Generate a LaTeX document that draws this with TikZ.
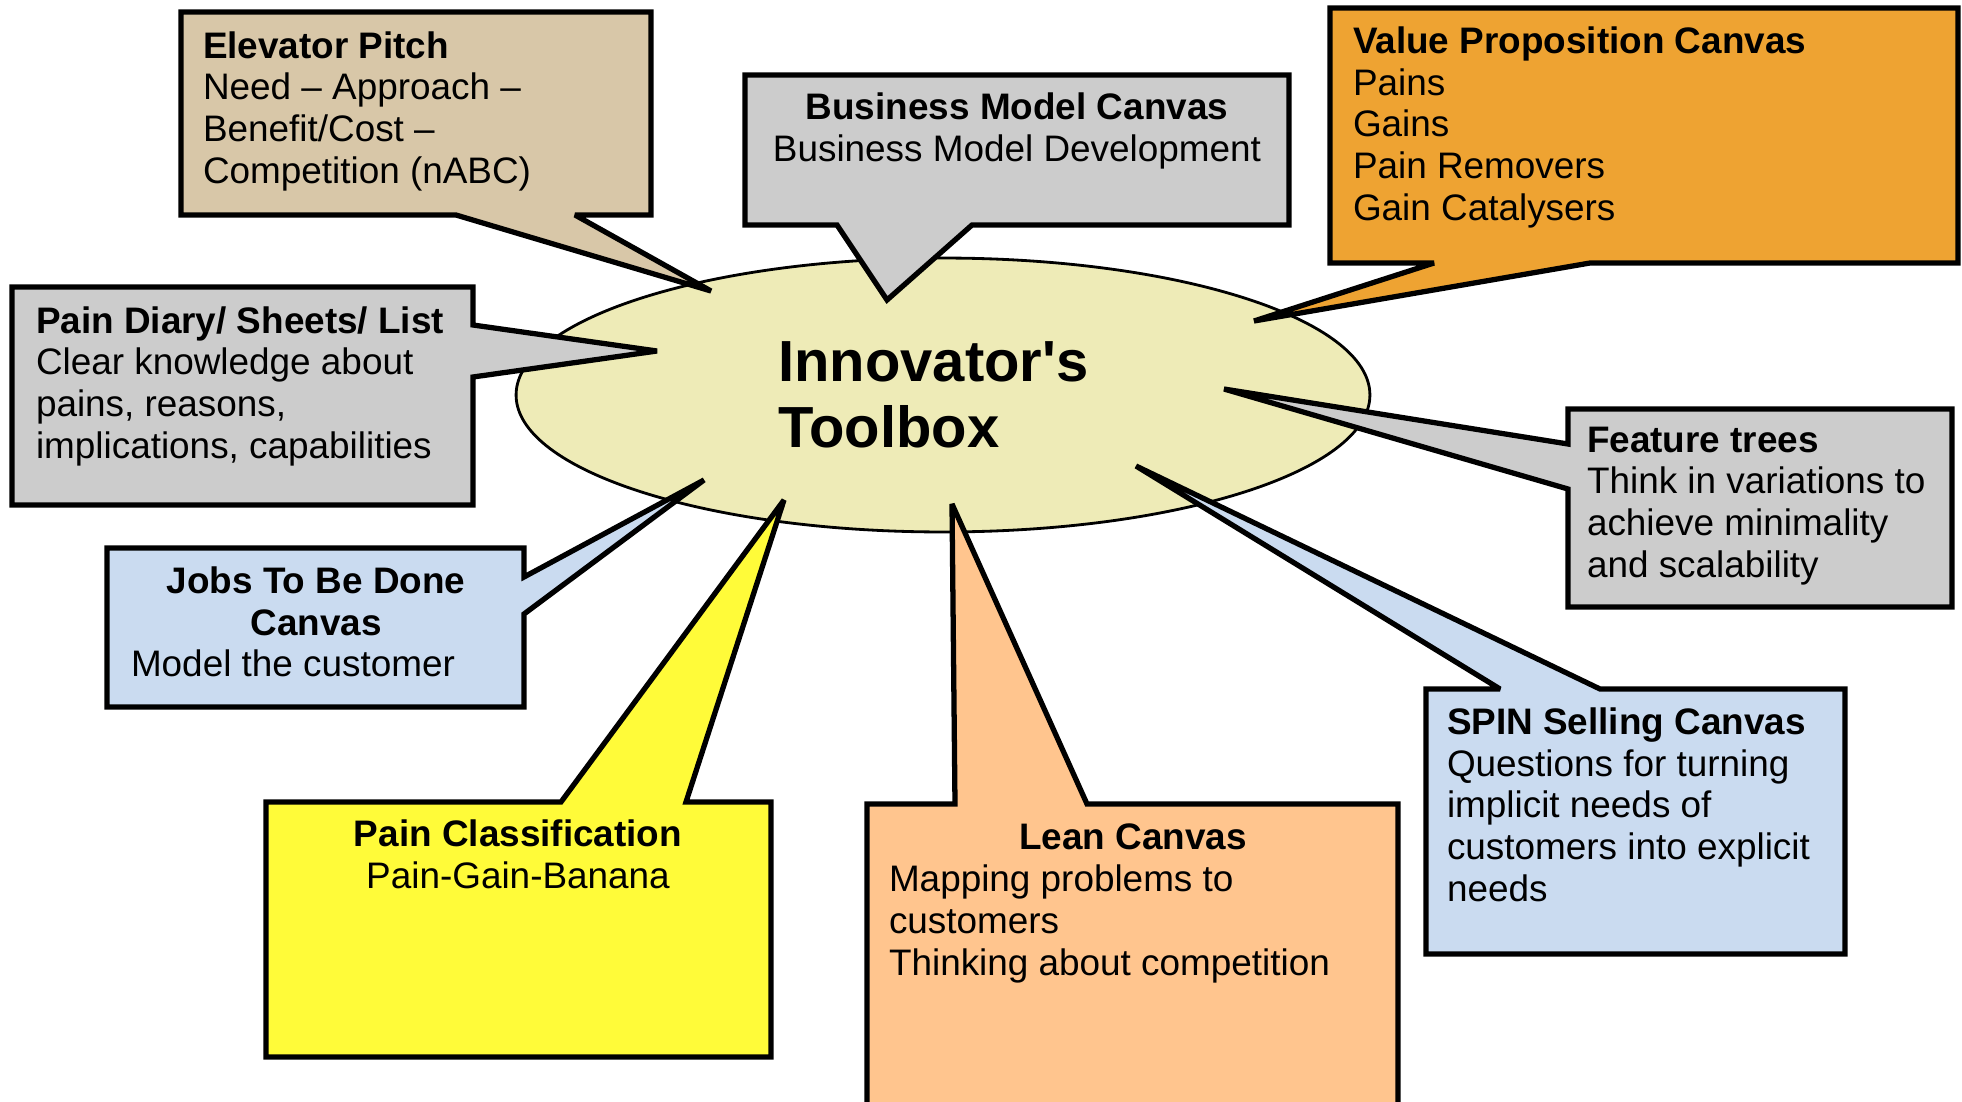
\documentclass[tikz,border=0pt]{standalone}
\usepackage{fontspec}
\setmainfont{Liberation Sans}[Ligatures=TeXOff]
\usetikzlibrary{shapes.geometric}

\definecolor{pitchtan}{RGB}{216,199,168}
\definecolor{canvasgray}{RGB}{204,204,204}
\definecolor{valueorange}{RGB}{238,163,50}
\definecolor{toolboxcream}{RGB}{238,235,183}
\definecolor{jobsblue}{RGB}{202,219,240}
\definecolor{painyellow}{RGB}{255,251,57}
\definecolor{leanpeach}{RGB}{255,197,142}

\begin{document}
\begin{tikzpicture}[x=0.02cm, y=-0.02cm,
  box/.style={draw=black, line width=3pt, line join=miter, miter limit=2},
  txt/.style={inner sep=0pt, outer sep=0pt, anchor=base west, align=left, font=\fontsize{21}{23.7}\selectfont},
  ctxt/.style={txt, anchor=base, align=center}]

\useasboundingbox (0,0) rectangle (1962,1102);

% centre
\node[draw=black, line width=1.6pt, fill=toolboxcream, ellipse, inner sep=0pt,
  minimum width=17.08cm, minimum height=5.48cm] (toolbox) at (943,395) {};

% callouts
\draw[box, fill=pitchtan] (181,12) -- (651,12) -- (651,215) -- (575,215) -- (711,291) -- (456,215) -- (181,215) -- cycle;
\draw[box, fill=canvasgray] (745,75) -- (1289,75) -- (1289,225) -- (972,225) -- (887,300) -- (837,225) -- (745,225) -- cycle;
\draw[box, fill=valueorange] (1330,8) -- (1958,8) -- (1958,263) -- (1590,263) -- (1254,321) -- (1434,263) -- (1330,263) -- cycle;
\draw[box, fill=canvasgray] (12,287) -- (473,287) -- (473,325) -- (657,351) -- (473,377) -- (473,505) -- (12,505) -- cycle;
\draw[box, fill=jobsblue] (107,548) -- (524,548) -- (524,577) -- (704,480) -- (524,614) -- (524,707) -- (107,707) -- cycle;
\draw[box, fill=painyellow] (266,802) -- (561,802) -- (784,500) -- (686,802) -- (771,802) -- (771,1057) -- (266,1057) -- cycle;
\draw[box, fill=leanpeach] (867,804) -- (955,804) -- (952,504) -- (1087,804) -- (1398,804) -- (1398,1130) -- (867,1130) -- cycle;
\draw[box, fill=jobsblue] (1426,689) -- (1500,689) -- (1136,466) -- (1600,689) -- (1845,689) -- (1845,954) -- (1426,954) -- cycle;
\draw[box, fill=canvasgray] (1568,409) -- (1952,409) -- (1952,607) -- (1568,607) -- (1568,489) -- (1224,389) -- (1568,444) -- cycle;

% texts (placed at the baseline of their last line)
\node[inner sep=0pt, anchor=base west, align=left, font=\fontsize{33}{37.5}\selectfont\bfseries] (title) at (778,447) {Innovator's\\Toolbox};

\node[txt] (pitch) at (203,183) {\textbf{Elevator Pitch}\\Need – Approach –\\Benefit/Cost –\\Competition (nABC)};
\node[ctxt] (bmc) at (1017,161) {\textbf{Business Model Canvas}\\Business Model Development};
\node[txt] (vpc) at (1353,220) {\textbf{Value Proposition Canvas}\\Pains\\Gains\\Pain Removers\\Gain Catalysers};
\node[txt] (diary) at (36,458) {\textbf{Pain Diary/ Sheets/ List}\\Clear knowledge about\\pains, reasons,\\implications, capabilities};
\node[ctxt] (jobs) at (316,635) {\textbf{Jobs To Be Done}\\\textbf{Canvas}};
\node[txt] (jobsbody) at (131,676) {Model the customer};
\node[ctxt] (painclass) at (518,888) {\textbf{Pain Classification}\\Pain-Gain-Banana};
\node[ctxt] (lean) at (1133,849) {\textbf{Lean Canvas}};
\node[txt] (leanbody) at (889,975) {Mapping problems to\\customers\\Thinking about competition};
\node[txt] (spin) at (1447,901) {\textbf{SPIN Selling Canvas}\\Questions for turning\\implicit needs of\\customers into explicit\\needs};
\node[txt] (features) at (1587,577) {\textbf{Feature trees}\\Think in variations to\\achieve minimality\\and scalability};
\end{tikzpicture}
\end{document}
